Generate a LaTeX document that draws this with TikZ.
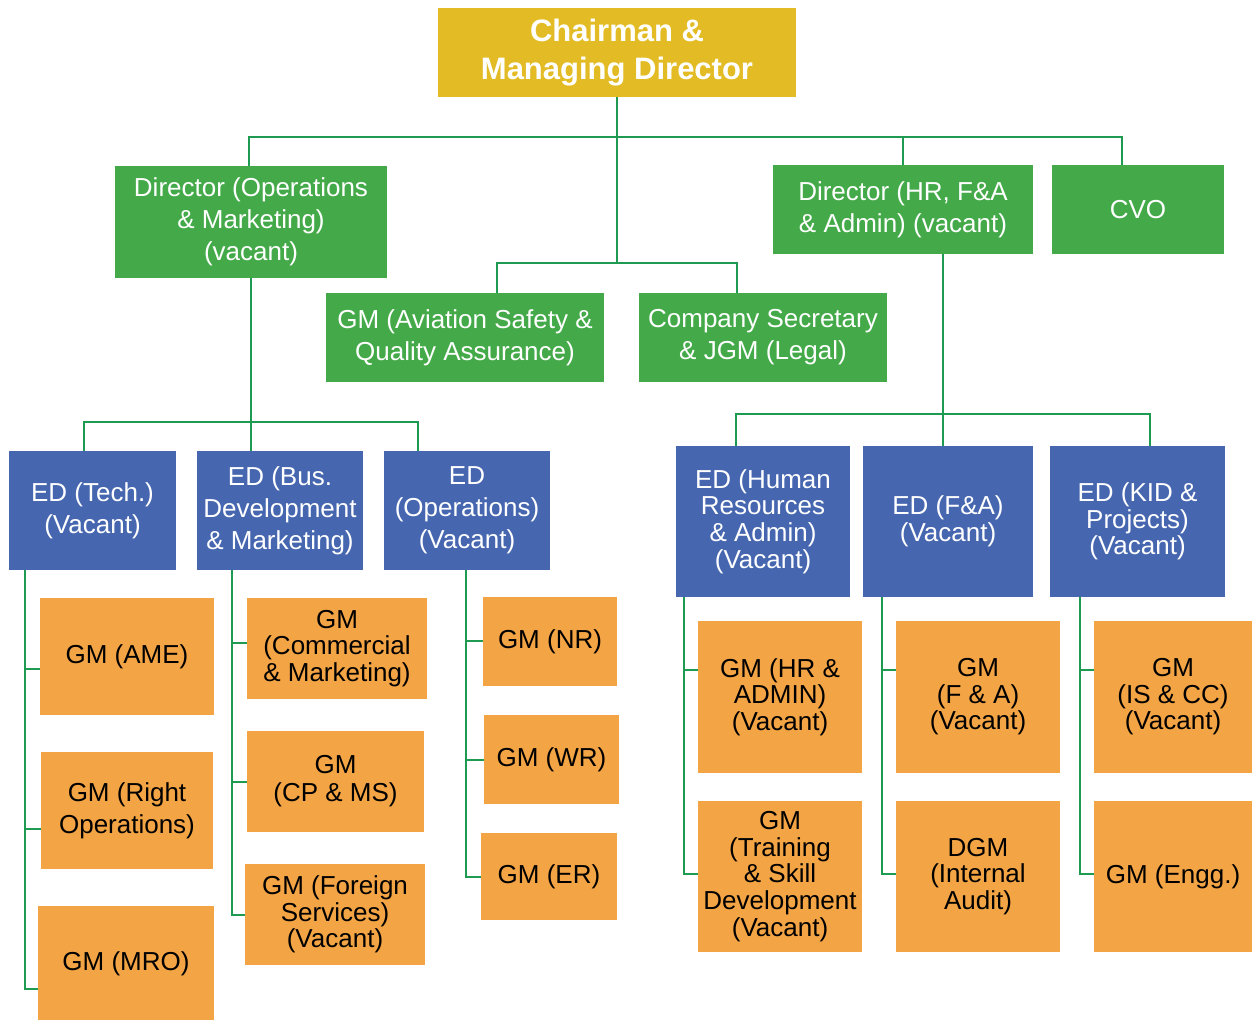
\documentclass[tikz,border=0pt]{standalone}
\usepackage{fontspec}
\setmainfont{Liberation Sans}
\definecolor{chairgold}{RGB}{227,187,36}
\definecolor{dirgreen}{RGB}{68,170,73}
\definecolor{edblue}{RGB}{70,103,176}
\definecolor{gmorange}{RGB}{243,164,69}
\definecolor{linegreen}{RGB}{30,155,80}
\tikzset{
  box/.style={inner sep=0pt, align=center, text=white, font=\fontsize{13}{16}\selectfont},
  chairbox/.style={box, fill=chairgold, font=\bfseries\fontsize{15.5}{19}\selectfont},
  dirbox/.style={box, fill=dirgreen},
  edbox/.style={box, fill=edblue},
  gmbox/.style={box, fill=gmorange, text=black},
  tight/.style={font=\fontsize{13}{13.3}\selectfont},
  conn/.style={draw=linegreen, line width=1pt},
}
\begin{document}
\begin{tikzpicture}[x=0.5pt, y=-0.5pt]
  \useasboundingbox (0,0) rectangle (1252,1020);

  \node[chairbox, minimum width=179pt, minimum height=44.5pt] (chair) at (617,52.5) {Chairman \&\\Managing Director};

  \node[dirbox, minimum width=136pt, minimum height=56pt] (dirops) at (251,222) {Director (Operations\\\& Marketing)\\(vacant)};
  \node[dirbox, minimum width=139pt, minimum height=44.5pt] (gmasq) at (465,337.5) {GM (Aviation Safety \&\\Quality Assurance)};
  \node[dirbox, minimum width=124pt, minimum height=44.5pt] (cosec) at (763,337.5) {Company Secretary\\\& JGM (Legal)};
  \node[dirbox, minimum width=130pt, minimum height=44.5pt] (dirhr) at (903,209.5) {Director (HR, F\&A\\\& Admin) (vacant)};
  \node[dirbox, minimum width=86pt, minimum height=44.5pt] (cvo) at (1138,209.5) {CVO};

  \node[edbox, minimum width=83.5pt, minimum height=59.5pt] (edtech) at (92.5,510.5) {ED (Tech.)\\(Vacant)};
  \node[edbox, minimum width=83pt, minimum height=59.5pt] (edbus) at (280,510.5) {ED (Bus.\\Development\\\& Marketing)};
  \node[edbox, minimum width=83pt, minimum height=59.5pt] (edops) at (467,510.5) {ED\\(Operations)\\(Vacant)};
  \node[edbox, tight, minimum width=87pt, minimum height=75.5pt] (edhr) at (763,521.5) {ED (Human\\Resources\\\& Admin)\\(Vacant)};
  \node[edbox, tight, minimum width=85pt, minimum height=75.5pt] (edfa) at (948,521.5) {ED (F\&A)\\(Vacant)};
  \node[edbox, tight, minimum width=87.5pt, minimum height=75.5pt] (edkid) at (1137.5,521.5) {ED (KID \&\\Projects)\\(Vacant)};

  \node[gmbox, minimum width=87pt, minimum height=58.5pt] (ame) at (127,656.5) {GM (AME)};
  \node[gmbox, minimum width=86pt, minimum height=58.5pt] (rightops) at (127,810.5) {GM (Right\\Operations)};
  \node[gmbox, minimum width=88pt, minimum height=58pt] (mro) at (126,964) {GM (MRO)};

  \node[gmbox, tight, minimum width=90pt, minimum height=50.5pt] (comm) at (337,648.5) {GM\\(Commercial\\\& Marketing)};
  \node[gmbox, font=\fontsize{13}{14}\selectfont, minimum width=88.5pt, minimum height=50.5pt] (cpms) at (335.5,781.5) {GM\\(CP \& MS)};
  \node[gmbox, tight, minimum width=90pt, minimum height=50.5pt] (foreign) at (335,914.5) {GM (Foreign\\Services)\\(Vacant)};

  \node[gmbox, minimum width=67pt, minimum height=44.5pt] (nr) at (550,641.5) {GM (NR)};
  \node[gmbox, minimum width=67.5pt, minimum height=44.5pt] (wr) at (551.5,759.5) {GM (WR)};
  \node[gmbox, minimum width=68pt, minimum height=43.5pt] (er) at (549,876.5) {GM (ER)};

  \node[gmbox, tight, minimum width=82pt, minimum height=76pt] (gmhr) at (780,697) {GM (HR \&\\ADMIN)\\(Vacant)};
  \node[gmbox, tight, minimum width=82pt, minimum height=75.5pt] (training) at (780,876.5) {GM\\(Training\\\& Skill\\Development\\(Vacant)};
  \node[gmbox, tight, minimum width=82pt, minimum height=76pt] (gmfa) at (978,697) {GM\\(F \& A)\\(Vacant)};
  \node[gmbox, tight, minimum width=82pt, minimum height=75.5pt] (dgm) at (978,876.5) {DGM\\(Internal\\Audit)};
  \node[gmbox, tight, minimum width=79pt, minimum height=76pt] (gmis) at (1173,697) {GM\\(IS \& CC)\\(Vacant)};
  \node[gmbox, tight, minimum width=79pt, minimum height=75.5pt] (engg) at (1173,876.5) {GM (Engg.)};

  \coordinate (topbus) at (617,137);
  \coordinate (midbus) at (617,263);
  \coordinate (opsbus) at (251,422);
  \coordinate (hrbus) at (943,414);

  \draw[conn] (chair.south) -- (midbus);
  \draw[conn] ([xshift=-1pt]dirops.north) |- (topbus) -| ([xshift=-8pt]cvo.north);
  \draw[conn] (topbus -| dirhr.north) -- (dirhr.north);
  \draw[conn] ([xshift=16pt]gmasq.north) |- (midbus) -| ([xshift=-13pt]cosec.north);

  \draw[conn] (dirops.south) -- (opsbus);
  \draw[conn] ([xshift=-4.25pt]edtech.north) |- (opsbus) -| ([xshift=-24.5pt]edops.north);
  \draw[conn] (opsbus) -- (opsbus |- edbus.north);

  \draw[conn] ([xshift=20pt]dirhr.south) -- (hrbus);
  \draw[conn] ([xshift=-13.5pt]edhr.north) |- (hrbus) -| ([xshift=6.25pt]edkid.north);
  \draw[conn] (hrbus) -- (hrbus |- edfa.north);

  \draw[conn] ([xshift=8pt]edtech.south west) |- ([yshift=-6.25pt]ame.west);
  \draw[conn] ([xshift=8pt]edtech.south west) |- ([yshift=-9.25pt]rightops.west);
  \draw[conn] ([xshift=8pt]edtech.south west) |- ([yshift=-12.5pt]mro.west);

  \draw[conn] ([xshift=17.5pt]edbus.south west) |- ([yshift=2.75pt]comm.west);
  \draw[conn] ([xshift=17.5pt]edbus.south west) |- (cpms.west);
  \draw[conn] ([xshift=17.5pt]edbus.south west) |- (foreign.west);

  \draw[conn] ([xshift=41pt]edops.south west) |- (nr.west);
  \draw[conn] ([xshift=41pt]edops.south west) |- (wr.west);
  \draw[conn] ([xshift=41pt]edops.south west) |- (er.west);

  \draw[conn] ([xshift=4pt]edhr.south west) |- ([yshift=13.5pt]gmhr.west);
  \draw[conn] ([xshift=4pt]edhr.south west) |- ([yshift=1.25pt]training.west);
  \draw[conn] ([xshift=9.5pt]edfa.south west) |- ([yshift=13.5pt]gmfa.west);
  \draw[conn] ([xshift=9.5pt]edfa.south west) |- ([yshift=1.25pt]dgm.west);
  \draw[conn] ([xshift=15pt]edkid.south west) |- ([yshift=13.5pt]gmis.west);
  \draw[conn] ([xshift=15pt]edkid.south west) |- ([yshift=1.25pt]engg.west);
\end{tikzpicture}
\end{document}
